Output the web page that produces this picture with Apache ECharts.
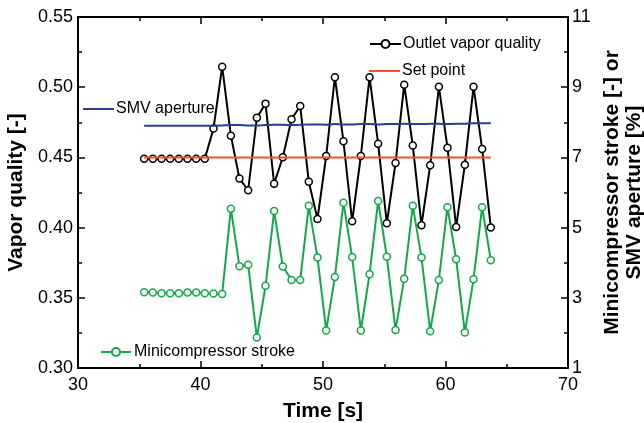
<!DOCTYPE html>
<html>
<head>
<meta charset="utf-8">
<script src="https://cdn.jsdelivr.net/npm/echarts@6/dist/echarts.min.js"></script>
<style>html,body{margin:0;padding:0;background:#fff}#c{width:644px;height:423px}</style>
</head>
<body>
<div id="c"></div>
<script>
var times = [35.40,36.11,36.82,37.52,38.23,38.94,39.65,40.35,41.06,41.77,42.48,43.18,43.89,44.60,45.31,46.01,46.72,47.43,48.14,48.84,49.55,50.26,50.97,51.67,52.38,53.09,53.80,54.50,55.21,55.92,56.63,57.33,58.04,58.75,59.46,60.16,60.87,61.58,62.29,62.99,63.70];
var outletQuality = [0.449,0.449,0.449,0.449,0.449,0.449,0.449,0.449,0.4705,0.5146,0.4655,0.4349,0.4266,0.4783,0.4883,0.4313,0.4501,0.4772,0.4866,0.4327,0.4062,0.451,0.5071,0.4615,0.4045,0.451,0.5071,0.4598,0.4031,0.446,0.5018,0.4584,0.4017,0.4444,0.5004,0.4569,0.4005,0.4448,0.5004,0.456,0.400];
var strokeValues = [3.16,3.15,3.13,3.13,3.13,3.15,3.15,3.13,3.12,3.11,5.54,3.90,3.94,1.87,3.34,5.47,3.89,3.51,3.51,5.62,4.15,2.07,3.59,5.71,4.16,2.07,3.67,5.76,4.17,2.08,3.54,5.62,4.15,2.05,3.51,5.58,4.10,2.01,3.53,5.58,4.07];
var smvValues = [7.90,7.90,7.90,7.90,7.90,7.90,7.90,7.90,7.90,7.91,7.92,7.92,7.91,7.91,7.92,7.93,7.93,7.92,7.93,7.94,7.94,7.93,7.95,7.94,7.94,7.95,7.95,7.94,7.95,7.95,7.96,7.95,7.95,7.96,7.96,7.95,7.96,7.96,7.97,7.97,7.97];
var setPointTimes = [35.40, 63.70];
var setPointValues = [0.45, 0.45];
var xTicks = [30, 40, 50, 60, 70];
var leftTicks = [0.30, 0.35, 0.40, 0.45, 0.50, 0.55];
var rightTicks = [1, 3, 5, 7, 9, 11];

function zip(a, b) { return a.map(function (v, i) { return [v, b[i]]; }); }

var FONT = '"Liberation Sans", Arial, sans-serif';
var axisLine = { show: true, lineStyle: { color: '#000', width: 2 } };
var tick = { show: true, inside: true, length: 7, lineStyle: { color: '#000', width: 1.5 } };
var minor = { show: true, splitNumber: 2, length: 4, lineStyle: { color: '#000', width: 1.5 } };
var lbl = { color: '#000', fontSize: 18, fontFamily: FONT };
var nameStyle = { color: '#000', fontSize: 21, fontWeight: 'bold', fontFamily: FONT };
var legText = { color: '#000', fontSize: 16, fontFamily: FONT, padding: [0, 0, 0, -3] };

var chart = echarts.init(document.getElementById('c'), null, { renderer: 'canvas' });
chart.setOption({
  animation: false,
  backgroundColor: '#fff',
  textStyle: { fontFamily: FONT },
  grid: { left: 78, right: 76, top: 17, bottom: 55, containLabel: false, outerBoundsMode: 'none' },
  legend: [
    { data: ['Outlet vapor quality'], left: 369, top: 36, padding: 0, itemWidth: 31, itemHeight: 10, textStyle: legText },
    { data: [{ name: 'Set point', icon: 'rect' }], left: 369, top: 63, padding: 0, itemWidth: 31, itemHeight: 2, textStyle: legText },
    { data: [{ name: 'SMV aperture', icon: 'rect' }], left: 83, top: 101, padding: 0, itemWidth: 31, itemHeight: 2, textStyle: legText },
    { data: ['Minicompressor stroke'], left: 100, top: 344, padding: 0, itemWidth: 30, itemHeight: 10,
      textStyle: { color: '#000', fontSize: 16, fontFamily: FONT, padding: [0, 0, 0, -2] } }
  ],
  xAxis: [
    { type: 'value', position: 'bottom', min: xTicks[0], max: xTicks[xTicks.length - 1], interval: 10,
      name: 'Time [s]', nameLocation: 'middle', nameGap: 33, nameTextStyle: nameStyle,
      axisLine: axisLine, axisTick: tick, minorTick: minor, splitLine: { show: false },
      axisLabel: Object.assign({ margin: 8 }, lbl) },
    { type: 'value', position: 'top', min: xTicks[0], max: xTicks[xTicks.length - 1], interval: 10,
      axisLine: axisLine, axisTick: tick, minorTick: minor, splitLine: { show: false },
      axisLabel: { show: false } }
  ],
  yAxis: [
    { type: 'value', position: 'left', min: leftTicks[0], max: leftTicks[leftTicks.length - 1], interval: 0.05,
      name: 'Vapor quality [-]', nameLocation: 'middle', nameGap: 50, nameTextStyle: nameStyle,
      axisLine: axisLine, axisTick: tick, minorTick: minor, splitLine: { show: false },
      axisLabel: Object.assign({ margin: 5, formatter: function (v) { return v.toFixed(2); } }, lbl) },
    { type: 'value', position: 'right', min: rightTicks[0], max: rightTicks[rightTicks.length - 1], interval: 2,
      name: 'Minicompressor stroke [-] or\nSMV aperture [%]', nameLocation: 'middle', nameGap: 31,
      nameRotate: 90,
      nameTextStyle: Object.assign({ lineHeight: 22 }, nameStyle),
      axisLine: axisLine, axisTick: tick, minorTick: minor, splitLine: { show: false },
      axisLabel: Object.assign({ margin: 4 }, lbl) }
  ],
  series: [
    { name: 'Minicompressor stroke', type: 'line', xAxisIndex: 0, yAxisIndex: 1, data: zip(times, strokeValues),
      symbol: 'circle', symbolSize: 7, color: '#12a84c',
      lineStyle: { color: '#12a84c', width: 2 }, itemStyle: { color: '#fff', borderColor: '#12a84c', borderWidth: 1.5 }, z: 2 },
    { name: 'Outlet vapor quality', type: 'line', xAxisIndex: 0, yAxisIndex: 0, data: zip(times, outletQuality),
      symbol: 'circle', symbolSize: 7, color: '#000',
      lineStyle: { color: '#000', width: 2 }, itemStyle: { color: '#fff', borderColor: '#000', borderWidth: 1.5 }, z: 3 },
    { name: 'SMV aperture', type: 'line', xAxisIndex: 0, yAxisIndex: 1, data: zip(times, smvValues),
      symbol: 'none', showSymbol: false, color: '#2e3a9a', smooth: 0.3,
      lineStyle: { color: '#2e3a9a', width: 2 }, z: 4 },
    { name: 'Set point', type: 'line', xAxisIndex: 0, yAxisIndex: 0, data: zip(setPointTimes, setPointValues),
      symbol: 'none', showSymbol: false, color: '#f0552a',
      lineStyle: { color: '#f0552a', width: 2 }, z: 5 }
  ]
});
</script>
</body>
</html>
